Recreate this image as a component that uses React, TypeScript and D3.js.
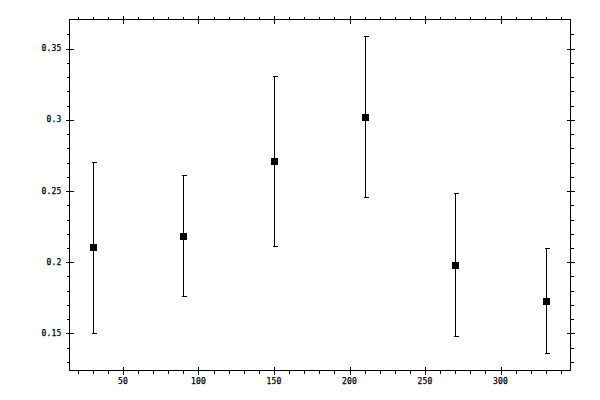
import * as d3 from "d3";

const xs = [30, 90, 150, 210, 270, 330];
const ys = [0.2104, 0.2186, 0.2713, 0.3022, 0.1983, 0.173];
const lows = [0.1505, 0.1765, 0.2116, 0.246, 0.1484, 0.136];
const highs = [0.2706, 0.261, 0.331, 0.3591, 0.2488, 0.2097];
const xMajor = [50, 100, 150, 200, 250, 300];
const yMajor = [0.15, 0.2, 0.25, 0.3, 0.35];

const W = 600;
const H = 400;
const left = 69.5;
const right = 570.5;
const top = 19.5;
const bottom = 370.5;

export default function App() {
  const x = d3.scaleLinear().domain([14.6, 346.3]).range([left, right]);
  const y = d3.scaleLinear().domain([0.124, 0.3704]).range([bottom, top]);

  const xMinor = d3.range(20, 341, 10).filter((v) => v % 50 !== 0);
  const yMinor = d3.range(13, 37).map((v) => v / 100).filter((v) => Math.round(v * 100) % 5 !== 0);
  const fmt = (v: number) => String(+v.toFixed(2));
  const font = "'DejaVu Sans Mono', monospace";
  const snap = (v: number) => Math.round(v) + 0.5;

  return (
    <svg
      width={W}
      height={H}
      style={{ position: "fixed", left: 0, top: 0, background: "#fff" }}
    >
      <rect x={left} y={top} width={right - left} height={bottom - top} fill="none" stroke="#000" shapeRendering="crispEdges" />
      <g stroke="#000" shapeRendering="crispEdges">
        {xMinor.map((v) => (
          <g key={"xm" + v}>
            <line x1={snap(x(v))} x2={snap(x(v))} y1={bottom} y2={bottom + 3} />
            <line x1={snap(x(v))} x2={snap(x(v))} y1={top} y2={top - 3} />
          </g>
        ))}
        {xMajor.map((v) => (
          <g key={"xM" + v}>
            <line x1={snap(x(v))} x2={snap(x(v))} y1={bottom - 4} y2={bottom + 4} />
            <line x1={snap(x(v))} x2={snap(x(v))} y1={top - 4} y2={top + 4} />
          </g>
        ))}
        {yMinor.map((v) => (
          <g key={"ym" + v}>
            <line y1={snap(y(v))} y2={snap(y(v))} x1={left} x2={left - 3} />
            <line y1={snap(y(v))} y2={snap(y(v))} x1={right} x2={right + 3} />
          </g>
        ))}
        {yMajor.map((v) => (
          <g key={"yM" + v}>
            <line y1={snap(y(v))} y2={snap(y(v))} x1={left - 4} x2={left + 4} />
            <line y1={snap(y(v))} y2={snap(y(v))} x1={right - 4} x2={right + 4} />
          </g>
        ))}
      </g>
      <g fontFamily={font} fontSize={8} fill="#000" stroke="#000" strokeWidth={0.25} letterSpacing={0.2}>
        {xMajor.map((v) => (
          <text key={"xl" + v} x={x(v)} y={383.5} textAnchor="middle">
            {fmt(v)}
          </text>
        ))}
        {yMajor.map((v) => (
          <text key={"yl" + v} x={61.5} y={y(v) + 2.5} textAnchor="end">
            {fmt(v)}
          </text>
        ))}
      </g>
      <g stroke="#000" shapeRendering="crispEdges">
        {xs.map((v, i) => {
          const cx = snap(x(v));
          return (
            <g key={"e" + i}>
              <line x1={cx} x2={cx} y1={y(lows[i])} y2={y(highs[i])} />
              <line x1={cx - 2} x2={cx + 3} y1={snap(y(lows[i]))} y2={snap(y(lows[i]))} />
              <line x1={cx - 2} x2={cx + 3} y1={snap(y(highs[i]))} y2={snap(y(highs[i]))} />
            </g>
          );
        })}
      </g>
      <g fill="#000" shapeRendering="crispEdges">
        {xs.map((v, i) => (
          <rect key={"p" + i} x={Math.round(x(v)) - 3} y={Math.round(y(ys[i])) - 3} width={7} height={7} />
        ))}
      </g>
    </svg>
  );
}
